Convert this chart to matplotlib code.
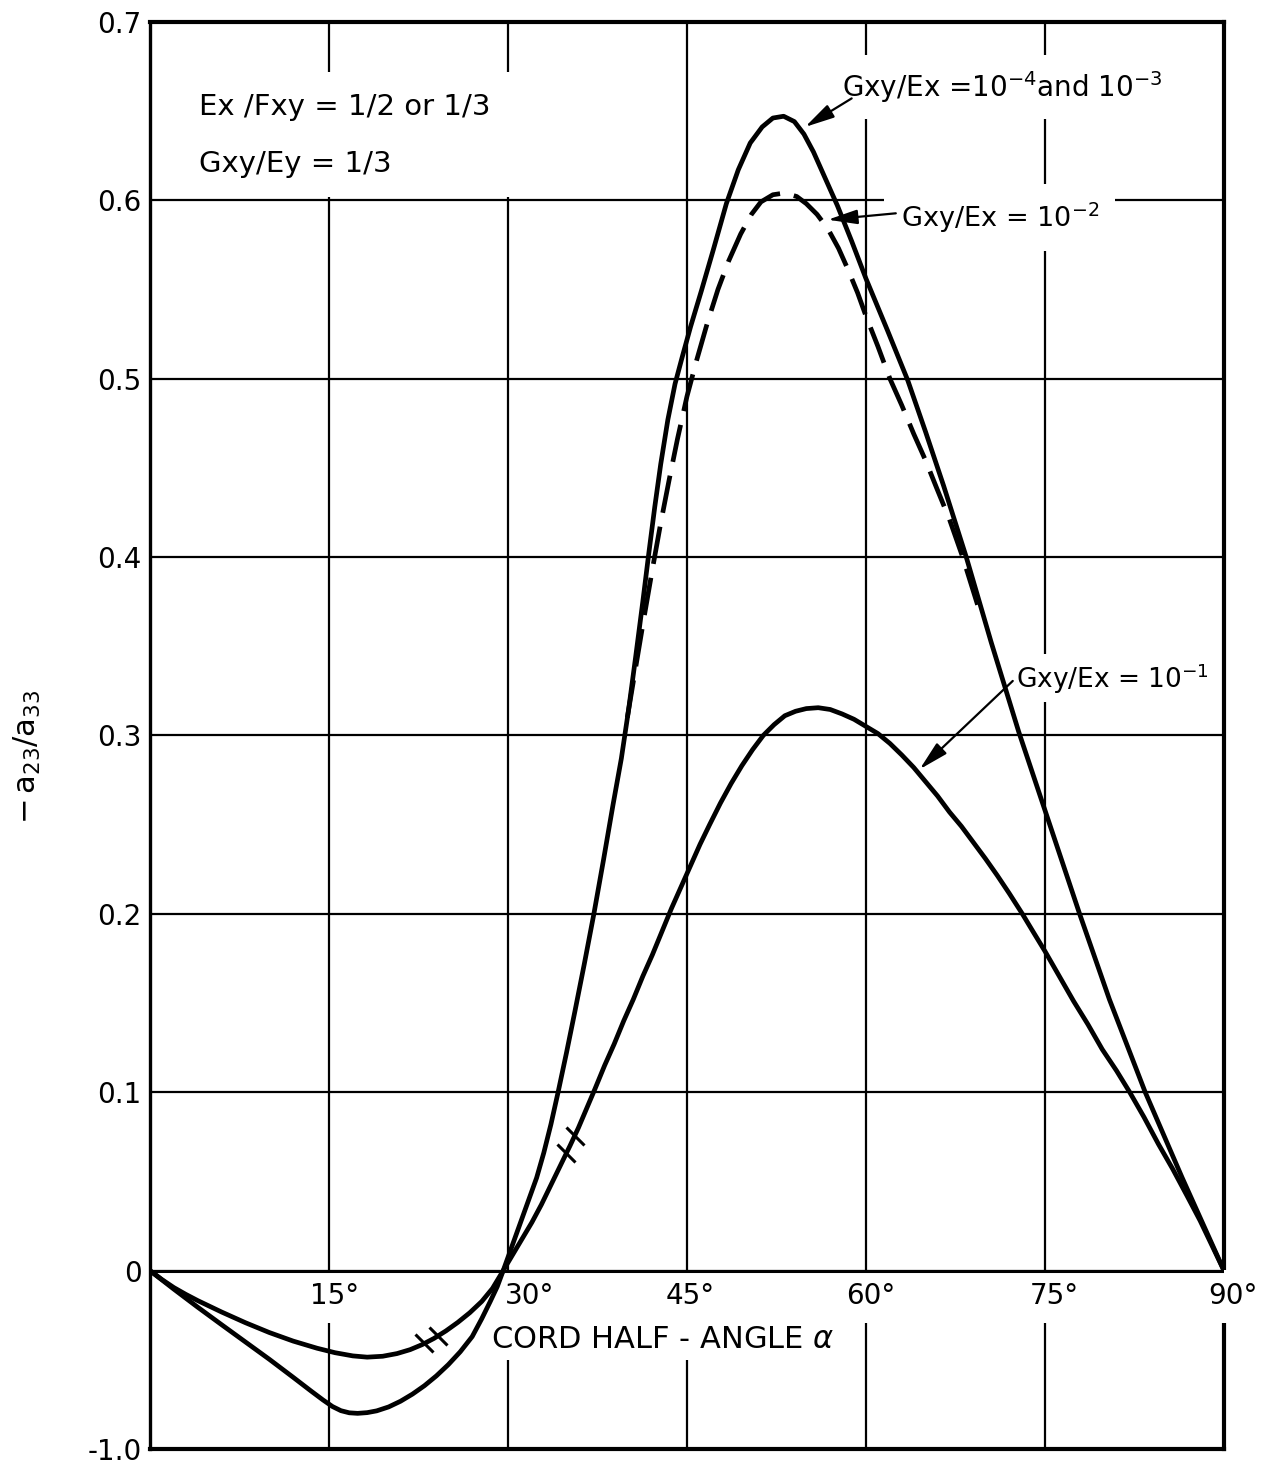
import numpy as np
import matplotlib
matplotlib.use('Agg')
import matplotlib.pyplot as plt
from matplotlib.markers import MarkerStyle
from matplotlib.transforms import Affine2D
from matplotlib.patches import Rectangle

plt.rcParams['font.family'] = ['DejaVu Sans']
plt.rcParams['mathtext.fontset'] = 'dejavusans'

# solid curve through the deep dip, then the high peak (Gxy/Ex = 1e-4 and 1e-3)
alpha_high = [0, 1, 2, 4, 6, 8, 10, 12, 13.5, 14.5, 15.3, 16.0, 16.7, 17.4, 18.2,
              19.0, 20.0, 21.0, 22.0, 23.0, 24.0, 25.0, 26.0, 27.0, 27.8, 28.5,
              29.1, 29.6, 30.3, 31.0, 31.7, 32.4, 33.0, 33.6, 34.2, 34.9, 35.6,
              36.4, 37.2, 38.0, 38.8, 39.5, 40.1, 40.7, 41.3, 41.8, 42.3, 42.8,
              43.4, 44.0, 44.6, 45.3, 46.2, 47.2, 48.3, 49.3, 50.3, 51.3, 52.2,
              53.1, 54.0, 54.8, 55.6, 56.4, 57.6, 58.8, 60.0, 61.8, 63.5, 65.0,
              66.5, 68.4, 70.5, 72.8, 74.8, 76.5, 77.9, 80.4, 83.4, 86.5, 90]
ratio_high = [0, -0.0052, -0.0104, -0.0205, -0.0303, -0.0400, -0.0497, -0.0598,
              -0.0675, -0.0725, -0.0762, -0.0785, -0.0797, -0.0800, -0.0796,
              -0.0786, -0.0764, -0.0732, -0.0692, -0.0645, -0.0590, -0.0527,
              -0.0455, -0.0370, -0.0270, -0.0175, -0.0090, 0.0, 0.013, 0.026,
              0.039, 0.052, 0.066, 0.082, 0.100, 0.122, 0.145, 0.172, 0.200,
              0.230, 0.261, 0.287, 0.314, 0.344, 0.375, 0.402, 0.428, 0.452,
              0.477, 0.497, 0.512, 0.529, 0.549, 0.572, 0.598, 0.617, 0.632,
              0.641, 0.646, 0.647, 0.644, 0.637, 0.627, 0.615, 0.597, 0.577,
              0.556, 0.527, 0.499, 0.470, 0.440, 0.400, 0.352, 0.302, 0.262,
              0.228, 0.200, 0.152, 0.100, 0.052, 0.0]

# dashed curve, Gxy/Ex = 1e-2 (only where it leaves the solid one)
alpha_mid = [40.0, 40.7, 41.4, 42.1, 42.8, 43.5, 44.2, 45.0, 45.8, 46.7, 47.6,
             48.5, 49.5, 50.4, 51.2, 52.2, 53.2, 54.2, 55.0, 55.9, 56.8, 57.7,
             58.5, 59.3, 60.0, 61.0, 62.0, 63.0, 64.0, 65.0, 65.9, 67.0, 68.1, 69.5]
ratio_mid = [0.310, 0.338, 0.366, 0.393, 0.419, 0.443, 0.466, 0.490, 0.510,
             0.531, 0.550, 0.566, 0.581, 0.592, 0.599, 0.603, 0.604, 0.602,
             0.598, 0.592, 0.584, 0.573, 0.561, 0.548, 0.535, 0.518, 0.500,
             0.485, 0.469, 0.454, 0.439, 0.421, 0.400, 0.370]

# solid curve through the shallow dip, then the low peak (Gxy/Ex = 1e-1)
alpha_low = [0, 1, 2, 3, 4, 6, 8, 10, 12, 14, 15.5, 17, 18.2, 19.5, 20.7, 21.8,
             22.8, 23.8, 24.8, 25.8, 26.8, 27.8, 28.7, 29.6, 30.4, 31.2, 32.0,
             32.8, 33.6, 34.4, 35.2, 35.9, 36.6, 37.3, 38.1, 38.9, 39.7, 40.5,
             41.3, 42.1, 42.9, 43.7, 44.5, 45.3, 46.1, 46.9, 47.8, 48.7, 49.6,
             50.5, 51.4, 52.3, 53.2, 54.1, 55.0, 56.0, 57.0, 58.0, 59.0, 60.0,
             61.0, 62.0, 63.0, 64.0, 65.0, 66.0, 67.0, 68.0, 69.0, 70.0, 71.0,
             72.0, 73.1, 74.0, 75.0, 76.2, 77.4, 78.6, 79.8, 81.0, 82.1, 83.3,
             84.5, 85.7, 86.9, 88.0, 89.0, 90.0]
ratio_low = [0, -0.0050, -0.0095, -0.0133, -0.0168, -0.0232, -0.0292, -0.0347,
             -0.0395, -0.0435, -0.0460, -0.0478, -0.0485, -0.0480, -0.0465,
             -0.0443, -0.0415, -0.0380, -0.0338, -0.0290, -0.0236, -0.0173,
             -0.0100, 0.0, 0.009, 0.018, 0.027, 0.037, 0.048, 0.059, 0.070,
             0.080, 0.091, 0.102, 0.115, 0.127, 0.140, 0.152, 0.165, 0.177,
             0.190, 0.203, 0.215, 0.227, 0.239, 0.250, 0.262, 0.273, 0.283,
             0.292, 0.300, 0.306, 0.311, 0.3135, 0.315, 0.3155, 0.3145, 0.312,
             0.309, 0.305, 0.301, 0.2955, 0.289, 0.282, 0.274, 0.266, 0.257,
             0.249, 0.240, 0.231, 0.2215, 0.2115, 0.200, 0.190, 0.179, 0.165,
             0.151, 0.138, 0.124, 0.112, 0.100, 0.086, 0.071, 0.057, 0.042,
             0.028, 0.014, 0.0]

x_ticks = [15, 30, 45, 60, 75, 90]
x_tick_labels = ['15°', '30°', '45°', '60°', '75°', '90°']
y_ticks = [-0.1, 0.0, 0.1, 0.2, 0.3, 0.4, 0.5, 0.6, 0.7]
y_tick_labels = ['-1.0', '0', '0.1', '0.2', '0.3', '0.4', '0.5', '0.6', '0.7']

fig = plt.figure(figsize=(12.71, 14.65), dpi=100)
ax = fig.add_axes([0.118, 0.0109, 0.845, 0.9743])
ax.set_xlim(0, 90)
ax.set_ylim(-0.1, 0.7)

ax.set_yticks(y_ticks)
ax.set_yticklabels(y_tick_labels, fontsize=20)
ax.set_xticks(x_ticks[:-1])
ax.set_xticklabels([])
ax.tick_params(length=0, pad=6)
ax.set_axisbelow(True)
ax.grid(True, color='black', lw=1.6)
ax.axhline(0, color='black', lw=2.2, zorder=3.5)
ax.spines['left'].set_linewidth(2.4)
for side in ['top', 'right', 'bottom']:
    ax.spines[side].set_linewidth(3.0)

line_kw = dict(color='black', lw=3.4, zorder=4, solid_capstyle='round',
               solid_joinstyle='round')
ax.plot(alpha_high, ratio_high, **line_kw)
ax.plot(alpha_low, ratio_low, **line_kw)
ax.plot(alpha_mid, ratio_mid, color='black', lw=3.4, zorder=4,
        linestyle=(0, (8, 3)), dash_capstyle='butt')

# break marks "//" on the shallow curve
slash = MarkerStyle('|', transform=Affine2D().rotate_deg(45))
for xb in [23.0, 24.1, 34.9, 35.6]:
    ax.plot(xb, np.interp(xb, alpha_low, ratio_low), marker=slash,
            markersize=18, mew=2.2, color='black', zorder=5)

# x tick labels sit inside the frame under the zero line
label_shift = [0.5, 1.8, 0.3, 0.4, 0.8, 0.75]
box = dict(boxstyle='square,pad=0.45', fc='white', ec='none')
for xt, lab, sh in zip(x_ticks, x_tick_labels, label_shift):
    ax.text(xt + sh, -0.0145, lab, fontsize=20, ha='center', va='center',
            bbox=box, zorder=3)

ax.text(28.6, -0.0385, r'CORD HALF - ANGLE $\alpha$', fontsize=22,
        ha='left', va='center', zorder=3,
        bbox=dict(boxstyle='square,pad=0.2', fc='white', ec='none'))

ax.set_ylabel(r'$-\,\mathregular{a_{23}/a_{33}}$', fontsize=22)
ax.yaxis.set_label_coords(-0.1, 0.485)

# parameter note in the upper left corner
ax.add_patch(Rectangle((3.4, 0.6015), 27.8, 0.0705, fc='white', ec='none', zorder=2))
ax.text(4.1, 0.652, 'Ex /Fxy = 1/2 or 1/3', fontsize=21, ha='left', va='center', zorder=3)
ax.text(4.1, 0.620, 'Gxy/Ey = 1/3', fontsize=21, ha='left', va='center', zorder=3)

arrow = dict(arrowstyle='-|>,head_length=0.9,head_width=0.22', color='black',
             lw=1.6, mutation_scale=20, shrinkA=0, shrinkB=0)

ax.text(58.0, 0.6635, r'Gxy/Ex =10$^{-4}$and 10$^{-3}$', fontsize=20,
        ha='left', va='center', zorder=3,
        bbox=dict(boxstyle='square,pad=0.5', fc='white', ec='none'))
ax.annotate('', xy=(54.9, 0.641), xytext=(58.8, 0.657), arrowprops=arrow, zorder=5)

ax.text(62.9, 0.590, r'Gxy/Ex = 10$^{-2}$', fontsize=19.5,
        ha='left', va='center', zorder=3,
        bbox=dict(boxstyle='square,pad=0.6', fc='white', ec='none'))
ax.annotate('', xy=(56.8, 0.589), xytext=(62.5, 0.5926), arrowprops=arrow, zorder=5)

ax.text(72.6, 0.332, r'Gxy/Ex = 10$^{-1}$', fontsize=19,
        ha='left', va='center', zorder=3,
        bbox=dict(boxstyle='square,pad=0.25', fc='white', ec='none'))
ax.annotate('', xy=(64.5, 0.281), xytext=(72.3, 0.3305), arrowprops=arrow, zorder=5)

fig.savefig('out.png', dpi=100)
